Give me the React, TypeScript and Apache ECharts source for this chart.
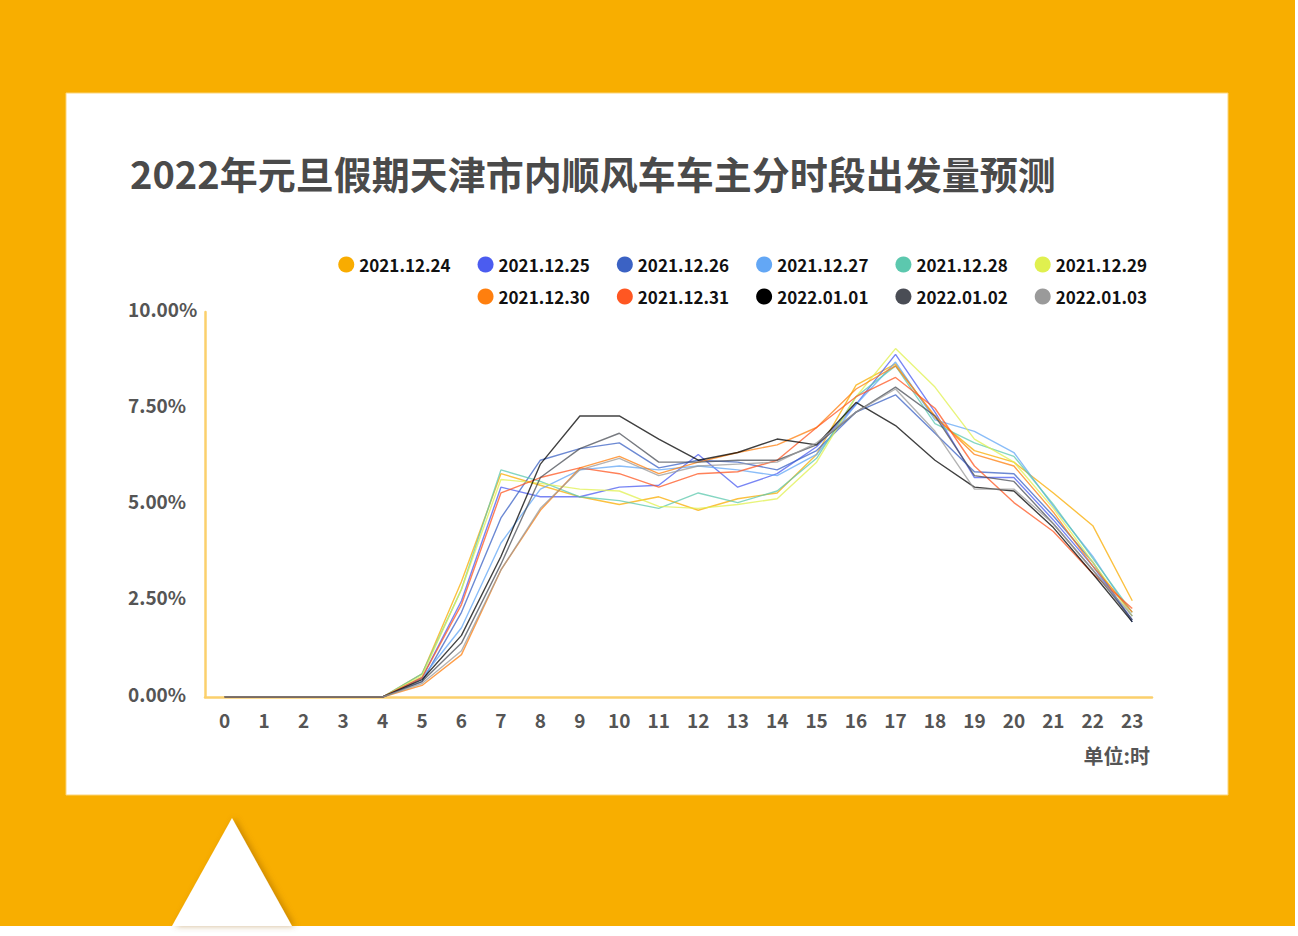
import React, { useEffect, useRef } from "react";
import * as echarts from "echarts";

const hours = ["0","1","2","3","4","5","6","7","8","9","10","11","12","13","14","15","16","17","18","19","20","21","22","23"];
const seriesNames = ["2021.12.24","2021.12.25","2021.12.26","2021.12.27","2021.12.28","2021.12.29","2021.12.30","2021.12.31","2022.01.01","2022.01.02","2022.01.03"];
const seriesColors = ["#F9AC00","#4B5CF0","#3B62C4","#63A7F5","#5CC8AE","#E0F04F","#FF7F0E","#FF5722","#000000","#4A4D55","#9A9A9A"];

const d1224 = [0,0,0,0,0,0.6,3.0,5.8,5.5,5.2,5.0,5.2,4.85,5.15,5.3,6.3,8.1,8.65,7.25,6.4,6.1,5.3,4.45,2.5];
const d1225 = [0,0,0,0,0,0.5,2.5,5.45,5.2,5.2,5.45,5.5,6.3,5.45,5.8,6.5,7.6,8.9,7.4,5.7,5.7,4.6,3.4,2.0];
const d1226 = [0,0,0,0,0,0.4,2.2,4.65,6.15,6.45,6.6,5.95,6.15,6.1,5.9,6.4,7.4,7.85,6.85,5.85,5.8,4.7,3.5,1.95];
const d1227 = [0,0,0,0,0,0.5,1.8,4.0,5.4,5.9,6.0,5.9,6.0,5.9,5.75,6.3,7.6,8.7,7.2,6.9,6.35,4.95,3.65,2.1];
const d1228 = [0,0,0,0,0,0.6,2.8,5.9,5.6,5.2,5.1,4.9,5.3,5.05,5.35,6.2,7.8,8.6,7.1,6.6,6.25,5.0,3.6,2.2];
const d1229 = [0,0,0,0,0,0.55,2.8,5.65,5.55,5.4,5.35,4.95,4.9,5.0,5.15,6.1,7.8,9.05,8.05,6.7,6.1,4.9,3.5,2.1];
const d1230 = [0,0,0,0,0,0.3,1.1,3.3,4.85,5.95,6.25,5.8,6.1,6.35,6.55,7.0,8.0,8.6,7.3,6.3,6.0,4.8,3.4,2.2];
const d1231 = [0,0,0,0,0,0.5,2.4,5.3,5.7,5.95,5.8,5.45,5.8,5.85,6.15,7.0,7.8,8.3,7.5,6.0,5.05,4.3,3.2,2.3];
const d0101 = [0,0,0,0,0,0.45,1.6,3.65,6.05,7.3,7.3,6.7,6.15,6.35,6.7,6.55,7.65,7.05,6.15,5.45,5.35,4.4,3.2,1.95];
const d0102 = [0,0,0,0,0,0.4,1.4,3.45,5.7,6.45,6.85,6.1,6.1,6.15,6.15,6.55,7.4,8.05,7.3,5.75,5.6,4.5,3.3,2.0];
const d0103 = [0,0,0,0,0,0.35,1.2,3.3,4.9,5.9,6.2,5.75,6.0,6.05,6.1,6.6,7.4,8.0,6.9,5.4,5.4,4.5,3.3,2.1];
const seriesData = [d1224,d1225,d1226,d1227,d1228,d1229,d1230,d1231,d0101,d0102,d0103];

const yTicks = [0, 2.5, 5, 7.5, 10];

const titleText = "2022年元旦假期天津市内顺风车车主分时段出发量预测";
const unitText = "单位:时";

const FONT = "'Noto Sans CJK SC', 'Noto Sans', sans-serif";

export default function App() {
  const ref = useRef<HTMLDivElement>(null);
  useEffect(() => {
    document.body.style.margin = "0";
    const chart = echarts.init(ref.current!, null, { renderer: "svg" });
    const legendText = {
      color: "#111",
      fontSize: 17,
      fontWeight: "bold" as const,
      fontFamily: FONT,
    };
    chart.setOption({
      animation: false,
      backgroundColor: "#ffffff",
      graphic: [
        { type: "rect", z: -100, shape: { x: 0, y: 0, width: 1295, height: 926 }, style: { fill: "#F8AE00" } },
        { type: "rect", z: -99, shape: { x: 66, y: 93, width: 1162, height: 702 }, style: { fill: "#ffffff", stroke: "#FBD57A", lineWidth: 1 } },
        { type: "polygon", z: -99, shape: { points: [[232, 818], [172, 926], [292, 926]] }, style: { fill: "#ffffff", shadowBlur: 6, shadowColor: "rgba(150,90,0,0.45)", shadowOffsetX: 3 } },
        {
          type: "text", z: 10, left: 130, top: 153,
          style: { text: titleText, fill: "#4A4A4A", fontSize: 38, fontWeight: "bold", fontFamily: FONT },
        },
        {
          type: "text", z: 10, x: 1150, y: 755,
          style: { text: unitText, fill: "#555555", fontSize: 20, fontWeight: "bold", fontFamily: FONT, align: "right", verticalAlign: "middle" },
        },
      ],
      legend: [
        {
          data: seriesNames.slice(0, 6), right: 146, top: 251, itemWidth: 16, itemHeight: 16,
          itemGap: 27, icon: "circle", textStyle: legendText, selectedMode: false,
        },
        {
          data: seriesNames.slice(6), right: 146, top: 283, itemWidth: 16, itemHeight: 16,
          itemGap: 27, icon: "circle", textStyle: legendText, selectedMode: false,
        },
      ],
      grid: { left: 205, right: 146, top: 312, bottom: 239, containLabel: false },
      xAxis: {
        type: "category",
        data: hours,
        boundaryGap: true,
        axisLine: { lineStyle: { color: "#FBD06C", width: 2.5 } },
        axisTick: { show: false },
        axisLabel: { color: "#555555", fontSize: 19, fontWeight: "bold", fontFamily: FONT, margin: 13, interval: 0 },
        splitLine: { show: false },
      },
      yAxis: {
        type: "value",
        min: yTicks[0],
        max: yTicks[yTicks.length - 1],
        interval: 2.5,
        axisLine: { show: true, lineStyle: { color: "#FBD06C", width: 2.5 } },
        axisTick: { show: false },
        splitLine: { show: false },
        axisLabel: {
          color: "#555555", fontSize: 19, fontWeight: "bold", fontFamily: FONT,
          align: "left", margin: 77,
          formatter: (v: number) => "{a|" + v.toFixed(2) + "%}",
          rich: {
            a: { color: "#555555", fontSize: 19, fontWeight: "bold", fontFamily: FONT, padding: [0, 0, 8, 0] },
          },
        },
      },
      series: seriesNames.map((name, i) => ({
        name,
        type: "line",
        data: seriesData[i],
        color: seriesColors[i],
        showSymbol: false,
        symbol: "circle",
        lineStyle: { width: 1.4, opacity: 0.75 },
      })),
    });
    return () => chart.dispose();
  }, []);
  return <div ref={ref} style={{ position: "absolute", left: 0, top: 0, width: 1298, height: 936 }} />;
}
